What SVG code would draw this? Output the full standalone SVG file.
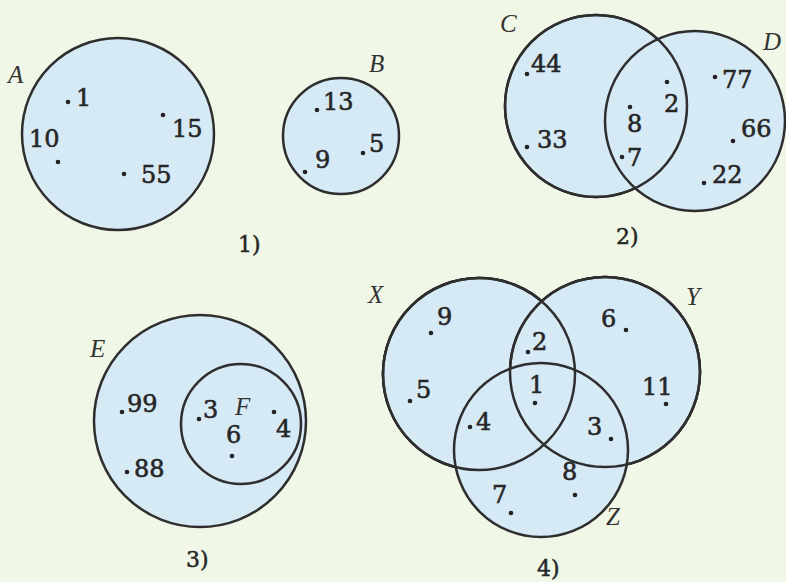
<svg xmlns="http://www.w3.org/2000/svg" width="786" height="582" viewBox="0 0 786 582">
<style>
.set{fill:#d6eaf6;stroke:#2e2e2e;stroke-width:2.5}
.ov{fill:none;stroke:#2e2e2e;stroke-width:2.5}
.n{font-family:"DejaVu Serif",serif;font-size:24px;fill:#262626;stroke:#262626;stroke-width:0.6}
.l{font-family:"Liberation Serif",serif;font-size:25px;font-style:italic;fill:#333}
.cap{font-family:"DejaVu Serif",serif;font-size:22px;fill:#262626;stroke:#262626;stroke-width:0.5}
.d{fill:#222}
</style>
<rect width="786" height="582" fill="#f1f7e6"/>

<!-- Diagram 1 -->
<g id="setA">
<circle class="set" cx="118" cy="134" r="96"/>
<text class="l" x="8" y="83">A</text>
<circle class="d" cx="68" cy="102" r="2.3"/><text class="n" x="76" y="106">1</text>
<text class="n" x="29" y="147">10</text><circle class="d" cx="58" cy="162" r="2.3"/>
<circle class="d" cx="163" cy="115" r="2.3"/><text class="n" x="172" y="137">15</text>
<circle class="d" cx="124" cy="174" r="2.3"/><text class="n" x="141" y="183">55</text>
</g>
<g id="setB">
<circle class="set" cx="341" cy="136" r="58"/>
<text class="l" x="369" y="72">B</text>
<circle class="d" cx="317" cy="110" r="2.3"/><text class="n" x="323" y="110">13</text>
<circle class="d" cx="305" cy="172" r="2.3"/><text class="n" x="315" y="168">9</text>
<circle class="d" cx="363" cy="153" r="2.3"/><text class="n" x="369" y="152">5</text>
</g>
<text class="cap" x="238" y="252">1)</text>

<!-- Diagram 2 -->
<g id="setC">
<circle class="set" cx="596" cy="106" r="91"/>
<text class="l" x="500" y="32">C</text>
<circle class="d" cx="527" cy="74" r="2.3"/><text class="n" x="531" y="72">44</text>
<circle class="d" cx="527" cy="147" r="2.3"/><text class="n" x="537" y="148">33</text>
</g>
<g id="setD">
<circle class="set" cx="695" cy="121" r="90"/>
<text class="l" x="763" y="50">D</text>
<circle class="d" cx="715" cy="77" r="2.3"/><text class="n" x="722" y="88">77</text>
<circle class="d" cx="733" cy="141" r="2.3"/><text class="n" x="741" y="137">66</text>
<circle class="d" cx="704" cy="183" r="2.3"/><text class="n" x="712" y="183">22</text>
</g>
<g id="connectors">
<circle class="ov" cx="596" cy="106" r="91"/>
<circle class="ov" cx="479" cy="374" r="96"/>
<circle class="ov" cx="605" cy="372" r="95"/>
</g>
<g id="setCD">
<circle class="d" cx="667" cy="82" r="2.3"/><text class="n" x="664" y="112">2</text>
<circle class="d" cx="630" cy="107" r="2.3"/><text class="n" x="627" y="132">8</text>
<circle class="d" cx="622" cy="157" r="2.3"/><text class="n" x="627" y="166">7</text>
</g>
<text class="cap" x="616" y="244">2)</text>

<!-- Diagram 3 -->
<g id="setE">
<circle class="set" cx="200" cy="421" r="106"/>
<text class="l" x="90" y="357">E</text>
<circle class="d" cx="122" cy="412" r="2.3"/><text class="n" x="127" y="412">99</text>
<circle class="d" cx="127" cy="472" r="2.3"/><text class="n" x="134" y="477">88</text>
</g>
<g id="setF">
<circle class="set" cx="241" cy="424" r="60"/>
<text class="l" x="235" y="415">F</text>
<circle class="d" cx="199" cy="419" r="2.3"/><text class="n" x="203" y="418">3</text>
<text class="n" x="226" y="443">6</text><circle class="d" cx="232" cy="456" r="2.3"/>
<circle class="d" cx="274" cy="412" r="2.3"/><text class="n" x="276" y="437">4</text>
</g>
<text class="cap" x="186" y="567">3)</text>

<!-- Diagram 4 -->
<g id="setX">
<circle class="set" cx="479" cy="374" r="96"/>
<text class="l" x="368" y="303">X</text>
<circle class="d" cx="431" cy="333" r="2.3"/><text class="n" x="437" y="325">9</text>
<circle class="d" cx="410" cy="401" r="2.3"/><text class="n" x="416" y="398">5</text>
</g>
<g id="setY">
<circle class="set" cx="605" cy="372" r="95"/>
<text class="l" x="686" y="305">Y</text>
<text class="n" x="601" y="327">6</text><circle class="d" cx="626" cy="330" r="2.3"/>
<text class="n" x="642" y="395">11</text><circle class="d" cx="666" cy="404" r="2.3"/>
</g>
<g id="setZ">
<circle class="set" cx="541" cy="450" r="87"/>
<text class="l" x="606" y="525">Z</text>
<text class="n" x="492" y="503">7</text><circle class="d" cx="511" cy="513" r="2.3"/>
<text class="n" x="562" y="480">8</text><circle class="d" cx="575" cy="495" r="2.3"/>
</g>
<g id="connectors4">
<circle class="ov" cx="479" cy="374" r="96"/>
<circle class="ov" cx="605" cy="372" r="95"/>
</g>
<g id="setXYZ">
<circle class="d" cx="528" cy="352" r="2.3"/><text class="n" x="532" y="350">2</text>
<text class="n" x="529" y="393">1</text><circle class="d" cx="535" cy="403" r="2.3"/>
<circle class="d" cx="470" cy="427" r="2.3"/><text class="n" x="476" y="430">4</text>
<text class="n" x="587" y="435">3</text><circle class="d" cx="611" cy="439" r="2.3"/>
</g>
<text class="cap" x="537" y="576">4)</text>
</svg>
